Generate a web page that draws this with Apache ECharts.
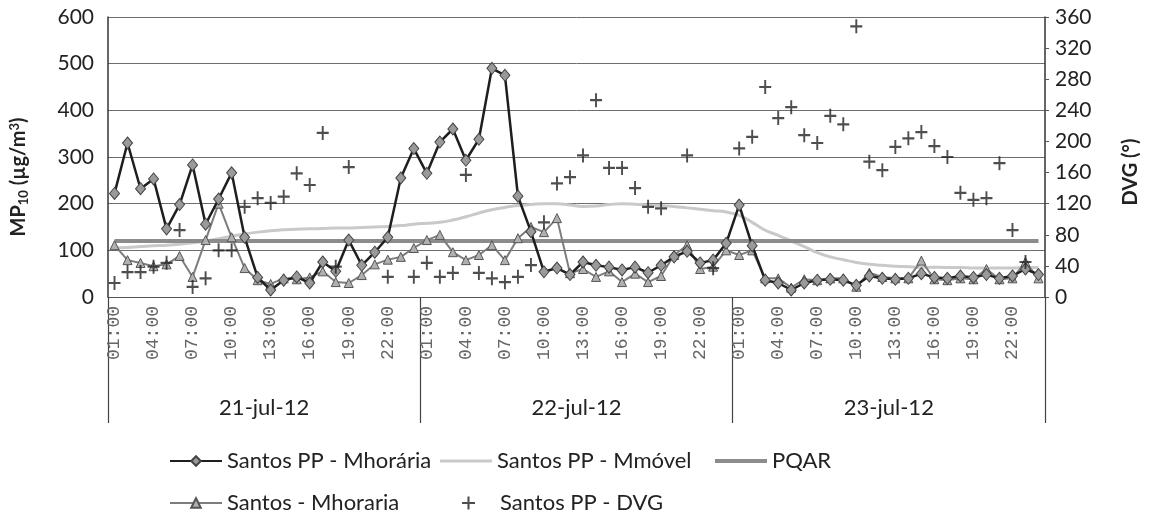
<!DOCTYPE html>
<html>
<head>
<meta charset="utf-8">
<script src="https://cdn.jsdelivr.net/npm/echarts@6/dist/echarts.min.js"></script>
<style>
  html, body { margin: 0; padding: 0; background: #fff; }
  #chart { width: 1150px; height: 517px; }
</style>
</head>
<body>
<div id="chart"></div>
<script>
// Days on the outer category level
const days = ['21-jul-12', '22-jul-12', '23-jul-12'];

// Hourly categories 01:00 .. 24:00 for each day
const hourLabels = [];
days.forEach(function () {
  for (let h = 1; h <= 24; h++) hourLabels.push((h < 10 ? '0' : '') + h + ':00');
});

// Santos PP - hourly MP10 (µg/m³)
const mhorariaPP = [
  222, 330, 232, 253, 146, 198, 283, 156, 210, 266, 128, 42, 15, 36, 43, 30, 75, 55, 122, 68, 96, 128, 255, 318,
  265, 332, 360, 293, 338, 490, 475, 216, 140, 54, 62, 48, 75, 68, 64, 58, 64, 52, 68, 86, 98, 73, 79, 115,
  197, 110, 36, 30, 15, 30, 36, 38, 36, 25, 45, 40, 38, 40, 50, 42, 40, 45, 42, 48, 40, 45, 60, 48
];

// Santos PP - moving average MP10 (µg/m³)
const mmovelPP = [
  105, 106, 108, 110, 111, 113, 116, 120, 125, 130, 135, 139, 142, 144, 145, 146, 147, 148, 148, 149, 150, 151, 153, 156,
  158, 160, 165, 172, 180, 187, 192, 196, 198, 200, 200, 197, 194, 195, 198, 200, 199, 197, 196, 194, 191, 188, 185, 182,
  175, 160, 143, 132, 120, 108, 95, 86, 80, 74, 70, 68, 66, 65, 64, 64, 63, 63, 62, 62, 62, 62, 63, 63
];

// Santos station - hourly MP10 (µg/m³)
const mhorariaSantos = [
  111, 79, 73, 66, 70, 88, 43, 122, 200, 128, 62, 36, 28, 40, 38, 42, 55, 32, 30, 47, 70, 80, 86, 105,
  122, 133, 96, 79, 90, 111, 79, 126, 150, 139, 169, 51, 60, 43, 55, 32, 50, 32, 45, 90, 111, 60, 65, 100,
  90, 100, 40, 40, 20, 38, 36, 40, 40, 22, 52, 43, 40, 40, 78, 38, 36, 40, 38, 60, 38, 40, 75, 40
];

// Santos PP - wind direction (degrees), blanks where no reading
const dvgPP = [
  18, 32, 32, 39, 44, 86, 13, 24, 60, 60, 116, 127, 121, 129, 159, 144, 211, 39, 167, null, null, 26, null, 26,
  44, 26, 31, 157, 31, 24, 19, 26, 41, 96, 146, 154, 182, 253, 166, 166, 140, 116, 114, null, 182, null, 37, null,
  191, 206, 270, 230, 244, 208, 198, 233, 222, 348, 174, 163, 193, 204, 212, 194, 180, 134, 125, 127, 172, 86, 45, null
];

// Air quality standard (µg/m³)
const pqarLimit = 120;
const pqarLine = hourLabels.map(function () { return pqarLimit; });

const leftTicks = { min: 0, max: 600, interval: 100 };
const rightTicks = { min: 0, max: 360, interval: 40 };

const plusPath = 'path://M4.2,0h1.6v10h-1.6z M0,4.2h10v1.6h-10z';
const baseFont = 'Lato, "Open Sans", sans-serif';
const legendText = { fontSize: 22, color: '#222', fontFamily: baseFont };

// One legend block per entry so each sits in its own slot
function legendEntry(name, left, top, extra) {
  return Object.assign({
    left: left, top: top, itemWidth: 52, itemHeight: 12, itemGap: 0,
    textStyle: legendText, padding: 0,
    data: [name]
  }, extra || {});
}

const chart = echarts.init(document.getElementById('chart'), null, { renderer: 'canvas' });

chart.setOption({
  backgroundColor: '#ffffff',
  animation: false,
  textStyle: { fontFamily: baseFont },
  grid: { left: 103, right: 105, top: 17, bottom: 220, containLabel: false },
  legend: [
    legendEntry('Santos PP - Mhorária', 169, 450),
    legendEntry('Santos PP - Mmóvel', 440, 450, {
      itemHeight: 3, data: [{ name: 'Santos PP - Mmóvel', icon: 'rect' }]
    }),
    legendEntry('PQAR', 715, 450, {
      itemHeight: 4, data: [{ name: 'PQAR', icon: 'rect' }]
    }),
    legendEntry('Santos - Mhoraria', 169, 492),
    legendEntry('Santos PP - DVG', 462, 492, {
      itemWidth: 13, itemHeight: 14, itemGap: 0,
      data: [{ name: 'Santos PP - DVG', icon: plusPath }],
      textStyle: Object.assign({}, legendText, { padding: [0, 0, 0, 20] })
    })
  ],
  xAxis: [
    {
      type: 'category',
      data: hourLabels,
      boundaryGap: true,
      axisLine: { show: true, lineStyle: { color: '#555', width: 1 } },
      axisTick: { show: false },
      axisLabel: {
        interval: 2, rotate: 90, margin: 9,
        fontFamily: '"Liberation Mono", "DejaVu Sans Mono", monospace',
        fontSize: 18, color: '#666'
      },
      splitLine: { show: false }
    },
    {
      type: 'category',
      data: days,
      position: 'bottom',
      boundaryGap: true,
      axisLine: { show: false },
      axisTick: { show: true, interval: 0, length: 126, lineStyle: { color: '#444', width: 1.2 } },
      axisLabel: { interval: 0, margin: 100, fontSize: 22, color: '#222', fontFamily: baseFont },
      splitLine: { show: false }
    }
  ],
  yAxis: [
    {
      type: 'value',
      min: leftTicks.min, max: leftTicks.max, interval: leftTicks.interval,
      position: 'left',
      name: '{b|MP}{sub|10}{b| (µg/m}{sup|3}{b|)}',
      nameLocation: 'middle', nameRotate: 90, nameGap: 78,
      nameTextStyle: {
        padding: [0, 40, 0, 0],
        rich: {
          b: { fontSize: 20, fontWeight: 'bold', color: '#222', fontFamily: baseFont },
          sub: { fontSize: 13, fontWeight: 'bold', color: '#222', fontFamily: baseFont, padding: [9, 0, 0, 0] },
          sup: { fontSize: 13, fontWeight: 'bold', color: '#222', fontFamily: baseFont, padding: [0, 0, 9, 0] }
        }
      },
      axisLine: { show: true, lineStyle: { color: '#333', width: 1.5 } },
      axisTick: { show: false },
      axisLabel: { fontSize: 21, color: '#222', margin: 14, fontFamily: baseFont },
      splitLine: { show: true, lineStyle: { color: '#6e6e6e', width: 1 } }
    },
    {
      type: 'value',
      min: rightTicks.min, max: rightTicks.max, interval: rightTicks.interval,
      position: 'right',
      name: 'DVG (°)',
      nameLocation: 'middle', nameRotate: 90, nameGap: 76,
      nameTextStyle: { fontSize: 20, fontWeight: 'bold', color: '#222', fontFamily: baseFont, padding: [0, 30, 0, 0] },
      axisLine: { show: true, lineStyle: { color: '#333', width: 1.5 } },
      axisTick: { show: true, length: 4, lineStyle: { color: '#555' } },
      axisLabel: { fontSize: 21, color: '#222', margin: 10, fontFamily: baseFont },
      splitLine: { show: false }
    }
  ],
  series: [
    {
      name: 'Santos PP - Mmóvel',
      type: 'line',
      data: mmovelPP,
      smooth: true,
      showSymbol: false,
      symbol: 'none',
      lineStyle: { color: '#c9c9c9', width: 3 },
      itemStyle: { color: '#c9c9c9' },
      z: 2
    },
    {
      name: 'PQAR',
      type: 'line',
      data: pqarLine,
      symbol: 'none',
      lineStyle: { color: '#8c8c8c', width: 4 },
      itemStyle: { color: '#8c8c8c' },
      z: 3
    },
    {
      name: 'Santos - Mhoraria',
      type: 'line',
      data: mhorariaSantos,
      symbol: 'triangle',
      symbolSize: 9,
      showSymbol: true,
      showAllSymbol: true,
      lineStyle: { color: '#7d7d7d', width: 2 },
      itemStyle: { color: '#b0b0b0', borderColor: '#555', borderWidth: 1 },
      z: 4
    },
    {
      name: 'Santos PP - Mhorária',
      type: 'line',
      data: mhorariaPP,
      symbol: 'diamond',
      symbolSize: [10, 12],
      showSymbol: true,
      showAllSymbol: true,
      lineStyle: { color: '#1e1e1e', width: 2.5 },
      itemStyle: { color: '#9a9a9a', borderColor: '#444', borderWidth: 1 },
      z: 5
    },
    {
      name: 'Santos PP - DVG',
      type: 'scatter',
      yAxisIndex: 1,
      data: dvgPP,
      symbol: plusPath,
      symbolSize: [12, 14],
      itemStyle: { color: '#222' },
      z: 6
    }
  ]
});
</script>
</body>
</html>
